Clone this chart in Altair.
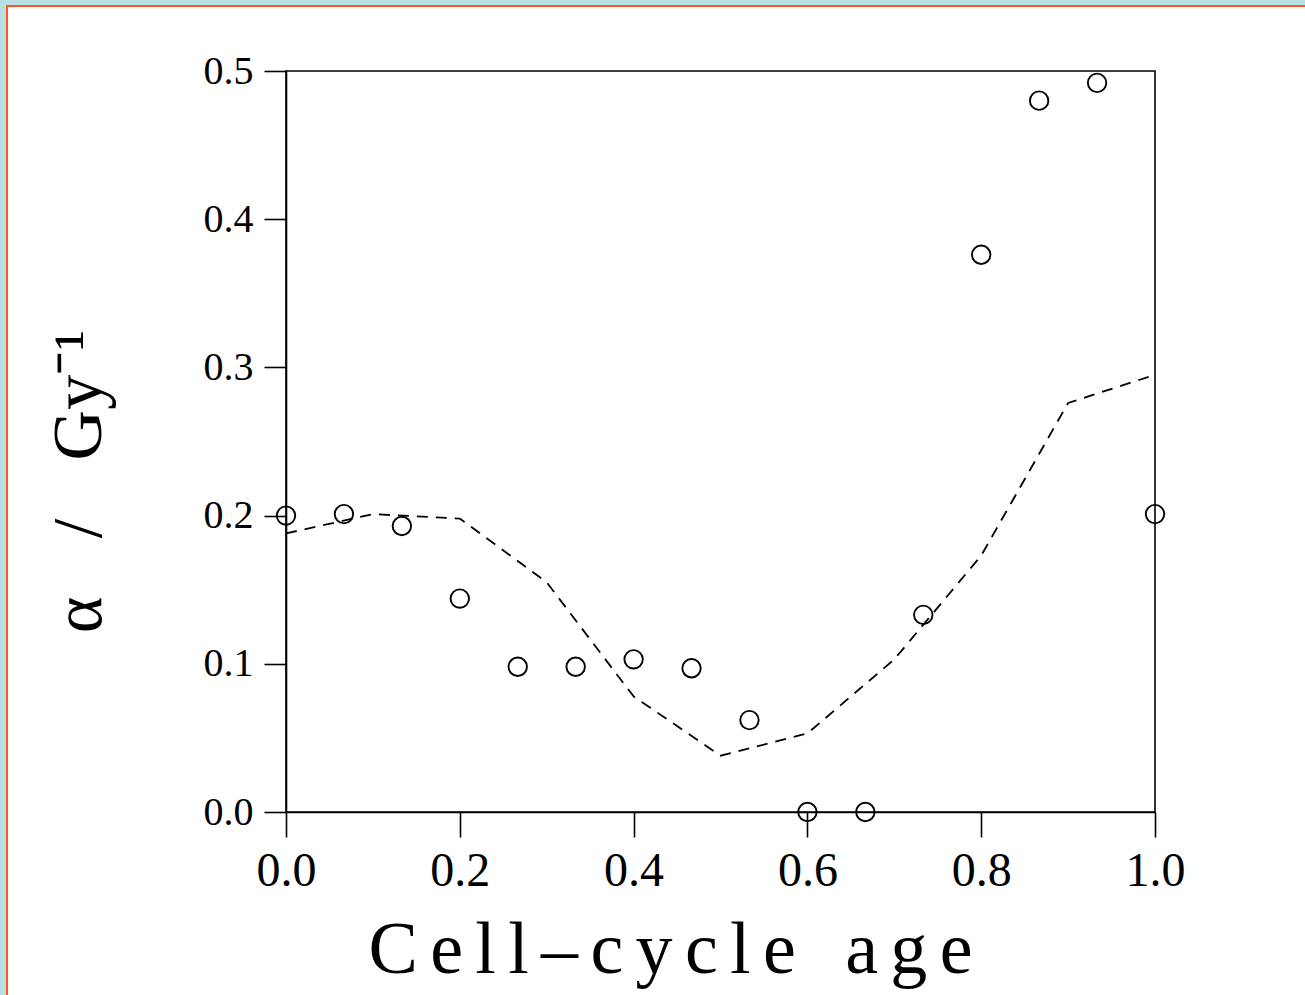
import altair as alt
import pandas as pd

# Measured points (open circles)
age_pts = [k / 15 for k in range(16)]
alpha_pts = [0.200, 0.201, 0.193, 0.144, 0.098, 0.098, 0.103, 0.097,
             0.062, 0.000, 0.000, 0.133, 0.376, 0.480, 0.492, 0.201]

# Model curve (dashed line)
age_line = [0.0, 0.1, 0.2, 0.3, 0.4, 0.5, 0.6, 0.7, 0.8, 0.9, 1.0]
alpha_line = [0.188, 0.201, 0.198, 0.155, 0.078, 0.038, 0.053, 0.103, 0.173, 0.276, 0.295]

x_ticks = [0.0, 0.2, 0.4, 0.6, 0.8, 1.0]
y_ticks = [0.0, 0.1, 0.2, 0.3, 0.4, 0.5]

pts = pd.DataFrame({"age": age_pts, "alpha": alpha_pts})
line = pd.DataFrame({"age": age_line, "alpha": alpha_line})

SERIF = "Liberation Serif"
sp = "\u2006"
x_title = (sp.join("Cell–cycle") + "\u2002" + sp + sp.join("age"))
y_title = "α\u2002\u2006\u2006/\u2002\u2006\u2006Gy⁻¹"

xscale = alt.Scale(domain=[0, 1], nice=False, zero=False)
yscale = alt.Scale(domain=[0, 0.5], nice=False, zero=False)

xaxis = alt.Axis(values=x_ticks, format=".1f", title=x_title, grid=False,
                 labelFont=SERIF, labelFontSize=48, labelColor="black",
                 labelPadding=10, labelFlush=False, labelOverlap=False,
                 tickSize=25, tickWidth=1.6, tickColor="black",
                 domainColor="black", domainWidth=1.6,
                 titleFont=SERIF, titleFontSize=74, titleFontWeight="normal",
                 titleColor="black", titleX=384, titleY=160,
                 titleAlign="center", titleBaseline="alphabetic")
yaxis = alt.Axis(values=y_ticks, format=".1f", title=y_title, grid=False,
                 labelFont=SERIF, labelFontSize=40, labelColor="black",
                 labelPadding=11, labelFlush=False, labelOverlap=False,
                 tickSize=22, tickWidth=1.6, tickColor="black",
                 domainColor="black", domainWidth=1.6,
                 titleFont=SERIF, titleFontSize=70, titleFontWeight="normal",
                 titleColor="black", titleX=-186, titleY=410, titleAngle=270,
                 titleAlign="center", titleBaseline="alphabetic")

dashed = alt.Chart(line).mark_line(
    color="black", strokeWidth=1.8, strokeDash=[11, 8]
).encode(
    x=alt.X("age:Q", scale=xscale, axis=xaxis),
    y=alt.Y("alpha:Q", scale=yscale, axis=yaxis),
)

circles = alt.Chart(pts).mark_point(
    shape="circle", filled=False, color="black", size=340, strokeWidth=1.9,
    opacity=1
).encode(
    x=alt.X("age:Q", scale=xscale),
    y=alt.Y("alpha:Q", scale=yscale),
)

# page frame decoration (light blue margin with orange border line)
one = pd.DataFrame({"d": [0]})
blue = "#b9dfe2"
orange = "#ff5522"
top_band = alt.Chart(one).mark_rect(color=blue).encode(
    x=alt.value(-286), x2=alt.value(1019), y=alt.value(-71), y2=alt.value(-66))
left_band = alt.Chart(one).mark_rect(color=blue).encode(
    x=alt.value(-286), x2=alt.value(-280), y=alt.value(-71), y2=alt.value(924))
top_line = alt.Chart(one).mark_rect(color=orange).encode(
    x=alt.value(-280), x2=alt.value(1019), y=alt.value(-66), y2=alt.value(-64))
left_line = alt.Chart(one).mark_rect(color=orange).encode(
    x=alt.value(-280), x2=alt.value(-278), y=alt.value(-66), y2=alt.value(924))

chart = alt.layer(
    top_band, left_band, top_line, left_line, dashed, circles
).properties(
    width=869, height=741,
    autosize=alt.AutoSizeParams(type="none"),
    padding={"left": 286, "top": 71, "right": 150, "bottom": 183},
    background="white",
).configure_view(
    stroke="black", strokeWidth=1.6, fill="white"
)

chart.save("out.html", embed_options={"renderer": "svg", "actions": False})
